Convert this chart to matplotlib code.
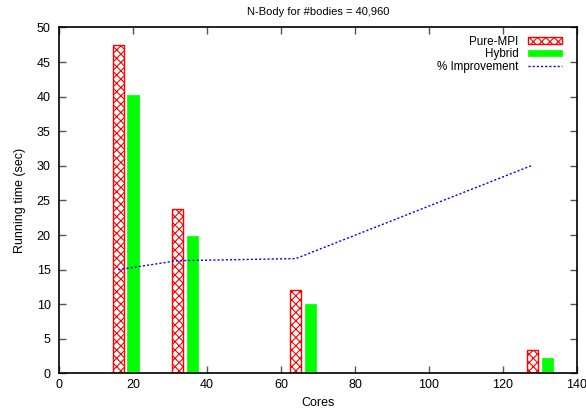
import matplotlib
matplotlib.use("Agg")
import matplotlib.pyplot as plt
import numpy as np

plt.rcParams['font.family'] = ['Liberation Sans', 'DejaVu Sans']
plt.rcParams['hatch.linewidth'] = 0.8

# running times for N-Body, 40,960 bodies
cores = [16, 32, 64, 128]
pure_mpi = [47.4, 23.7, 12.0, 3.35]
hybrid = [40.3, 19.9, 10.0, 2.24]
improvement = [15.0, 16.3, 16.6, 30.1]

fig = plt.figure(figsize=(5.86, 4.08), dpi=100)
ax = fig.add_axes([0.1007, 0.0846, 0.8839, 0.848])

x = np.array(cores)
b1 = ax.bar(x, pure_mpi, width=3, color='white', edgecolor='red', hatch='xxxx',
            linewidth=1, label='Pure-MPI', zorder=2)
b2 = ax.bar(x + 4, hybrid, width=3, color='#00ff00', edgecolor='#00ff00',
            linewidth=0.5, label='Hybrid', zorder=2)
ln, = ax.plot(x, improvement, color='#0000ff', linestyle=(0, (1.5, 1.5)),
              linewidth=1, label='% Improvement', zorder=3)

ax.set_xlim(0, 140)
ax.set_ylim(0, 50)
ax.set_xticks(range(0, 141, 20))
ax.set_yticks(range(0, 51, 5))
ax.tick_params(direction='in', length=5, width=1, color='#555555',
               top=True, right=True, labelsize=9)
ax.tick_params(axis='x', pad=4)
ax.tick_params(axis='y', pad=6)
for s in ax.spines.values():
    s.set_linewidth(1.2)

ax.set_title('N-Body for #bodies = 40,960', fontsize=8, pad=9)
ax.set_xlabel('Cores', fontsize=9, labelpad=4)
ax.set_ylabel('Running time (sec)', fontsize=9, labelpad=8)

ax.legend([b1, b2, ln], ['Pure-MPI', 'Hybrid', '% Improvement'],
          loc='upper right', bbox_to_anchor=(0.986, 1.0),
          frameon=False, markerfirst=False, fontsize=8.4,
          handlelength=2.9, handleheight=0.5, labelspacing=0.05,
          borderaxespad=0.3, handletextpad=0.8)

fig.savefig('out.png', dpi=100)
